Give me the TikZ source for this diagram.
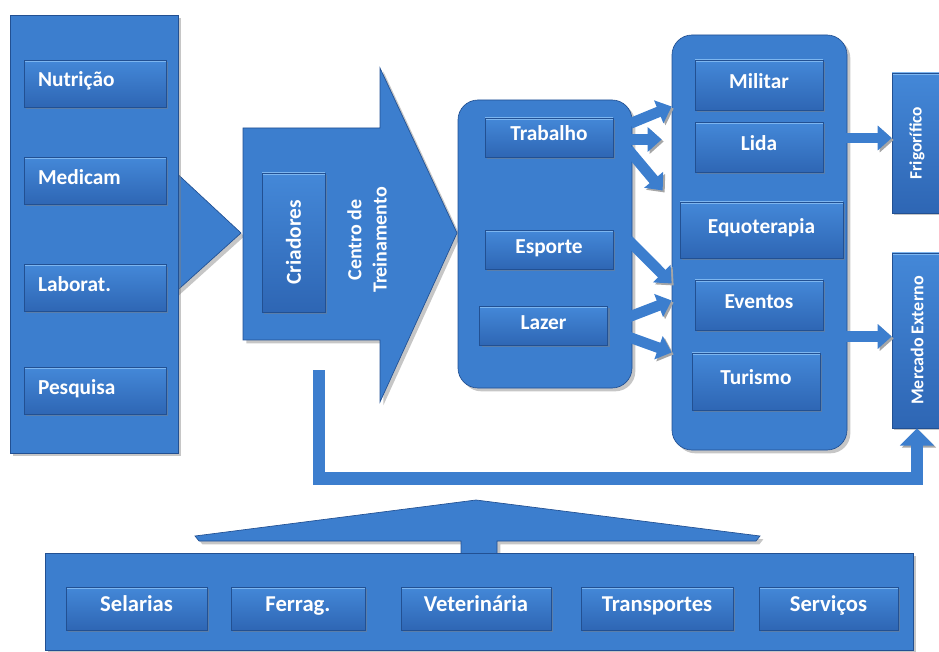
\documentclass[tikz,border=0pt]{standalone}
\usepackage{fontspec}
\setmainfont{Carlito}
\usetikzlibrary{arrows.meta,calc,shadows}
\definecolor{panelblue}{RGB}{60,126,206}
\definecolor{itemtop}{RGB}{68,136,216}
\definecolor{itembot}{RGB}{46,102,180}
\definecolor{edgeblue}{RGB}{34,80,146}
\definecolor{lightblue}{RGB}{125,182,240}
\definecolor{arrowblue}{RGB}{60,126,206}

\tikzset{
  panel/.style={draw=edgeblue, line width=0.5pt, fill=panelblue,
    drop shadow={shadow xshift=2.5pt, shadow yshift=-2.5pt, opacity=0.45}},
  item/.style={draw=edgeblue, line width=0.4pt, top color=itemtop, bottom color=itembot, text=white,
    font=\fontsize{16}{19}\selectfont\bfseries, inner sep=0pt,
    drop shadow={shadow xshift=1.5pt, shadow yshift=-1.5pt, opacity=0.45},
    path picture={\draw[lightblue, line width=2.5pt]
      (path picture bounding box.north west) -- (path picture bounding box.north east);}},
  flat/.style={text height=0.7em, text depth=0.2em},
  supbox/.style={item, flat, text width=85.5pt, inner xsep=10.5pt, align=left, minimum height=35pt},
  midbox/.style={item, flat, minimum width=96pt, minimum height=29.25pt},
  outbox/.style={item, flat, minimum width=96pt, minimum height=37.5pt},
  basebox/.style={item, flat, minimum height=32.25pt, font=\fontsize{17}{20}\selectfont\bfseries},
  blocktext/.style={text=white, font=\fontsize{15}{19}\selectfont\bfseries},
  blockarrow/.style={draw=arrowblue, line width=8pt, -{Triangle[length=10.5pt, width=18pt]},
    preaction={draw=black!35, transform canvas={shift={(1.5pt,-1.5pt)}}}},
  backarrow/.style={draw=arrowblue, line width=9.5pt, line join=miter,
    -{Triangle[length=13pt, width=25pt]},
    preaction={draw=black!35, transform canvas={shift={(1.5pt,-1.5pt)}}}}
}

\begin{document}
\begin{tikzpicture}[x=0.75pt, y=-0.75pt]
  \useasboundingbox (0,0) rectangle (939,652);

  % suppliers
  \filldraw[panel] (170,167) -- (241,233) -- (170,297) -- cycle;
  \node[panel, minimum width=126pt, minimum height=328.5pt] (sup) at (94,234) {};
  \node[supbox] (nut) at (95,83.5) {Nutrição};
  \node[supbox] (med) at (95,181) {Medicam};
  \node[supbox] (lab) at (95,288) {Laborat.};
  \node[supbox] (pes) at (95,391) {Pesquisa};

  % breeders and training centre
  \filldraw[panel] (243,128) -- (380,128) -- (380,68) -- (457,233) -- (380,402)
    -- (380,340) -- (243,340) -- cycle;
  \node[item, minimum width=47.25pt, minimum height=104.25pt] (cri) at (293.5,242.5)
    {\rotatebox{90}{Criadores}};
  \node[blocktext, rotate=90, align=center] (ctr) at (367,240) {Centro de\\Treinamento};

  % uses
  \node[panel, rounded corners=15pt, minimum width=130.5pt, minimum height=216pt] (use) at (545,244) {};
  \node[midbox] (trab) at (549,137.5) {Trabalho};
  \node[midbox] (esp) at (549,250) {Esporte};
  \node[midbox] (laz) at (543.5,326) {Lazer};

  % activities
  \node[panel, rounded corners=15pt, minimum width=131.25pt, minimum height=311.25pt] (act) at (759.5,242.5) {};
  \node[outbox] (mil) at (759,85) {Militar};
  \node[outbox] (lida) at (759,147.5) {Lida};
  \node[item, flat, minimum width=122pt, minimum height=42pt] (equo) at (761.5,230) {Equoterapia};
  \node[outbox] (eve) at (759,305) {Eventos};
  \node[outbox, minimum height=42.75pt] (tur) at (756,381.5) {Turismo};

  % markets
  \node[item, minimum width=37.5pt, minimum height=105pt, font=\fontsize{13}{15}\selectfont\bfseries]
    (frig) at (917,143) {\rotatebox{90}{Frigorífico}};
  \node[item, minimum width=37.5pt, minimum height=131.25pt, font=\fontsize{13.5}{15}\selectfont\bfseries]
    (merc) at (917,340.5) {\rotatebox{90}{Mercado Externo}};

  % arrows between the groups
  \draw[blockarrow] ($(trab.east)+(17,-14)$) -- ($(act.west)+(0,-136)$);
  \draw[blockarrow] ($(trab.east)+(17,2)$) -- ($(trab.east -| act.west)+(-10,2)$);
  \draw[blockarrow] ($(trab.east)+(15,12)$) -- ($(trab.east -| act.west)+(-9,53)$);
  \draw[blockarrow] ($(esp.east)+(15,-10)$) -- ($(act.west)+(0,41)$);
  \draw[blockarrow] ($(laz.east)+(21,-9)$) -- ($(act.west)+(0,58)$);
  \draw[blockarrow] ($(laz.east)+(21,11)$) -- ($(act.west)+(0,110)$);
  \draw[blockarrow] ($(frig.west -| act.east)+(-3,-5)$) -- ($(frig.west)+(0,-5)$);
  \draw[blockarrow] ($(merc.west -| act.east)+(-3,-4)$) -- ($(merc.west)+(0,-4)$);

  % feedback to the external market
  \coordinate (fb) at (319,370);
  \draw[backarrow] (fb) |- ($(merc.south)+(0,50)$) -- (merc.south);

  % support services
  \filldraw[panel] (195,536) -- (476,500) -- (760,536) -- (756,541) -- (497,541) -- (497,556)
    -- (461,556) -- (461,541) -- (199,541) -- cycle;
  \node[panel, minimum width=651pt, minimum height=72.75pt] (base) at (479,601.5) {};
  \node[basebox, minimum width=105.75pt] (sel) at (136.5,608.5) {Selarias};
  \node[basebox, minimum width=100.5pt] (fer) at (298,608.5) {Ferrag.};
  \node[basebox, minimum width=112.5pt] (vet) at (476,608.5) {Veterinária};
  \node[basebox, minimum width=114pt] (tra) at (657,608.5) {Transportes};
  \node[basebox, minimum width=104.25pt] (ser) at (828.5,608.5) {Serviços};
\end{tikzpicture}
\end{document}
